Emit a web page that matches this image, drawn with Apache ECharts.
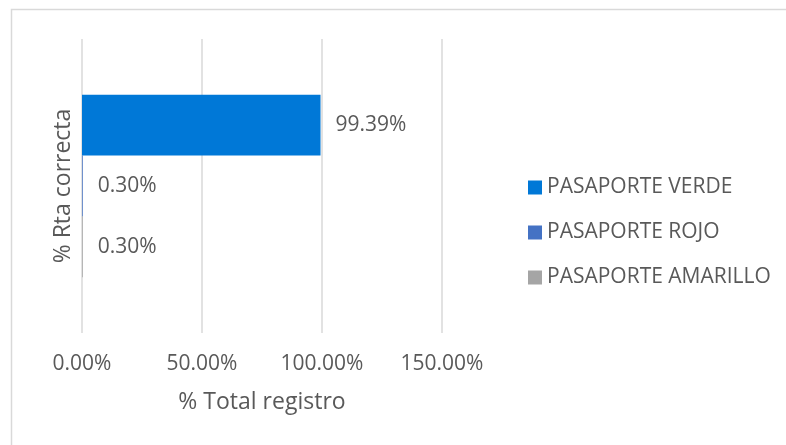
<!DOCTYPE html>
<html>
<head>
<meta charset="utf-8">
<script src="https://cdn.jsdelivr.net/npm/echarts@6/dist/echarts.min.js"></script>
<style>
  html, body { margin: 0; padding: 0; background: #fff; }
  #chart { width: 786px; height: 445px; }
</style>
</head>
<body>
<div id="chart"></div>
<script>
// datos
var categorias = ['% Rta correcta'];
var seriesNombres = ['PASAPORTE VERDE', 'PASAPORTE ROJO', 'PASAPORTE AMARILLO'];
var verde = [99.39];
var rojo = [0.30];
var amarillo = [0.30];
var colores = ['#0078D7', '#4472C4', '#A5A5A5'];

var fuente = '"Open Sans", sans-serif';
var gris = '#595959';

var chart = echarts.init(document.getElementById('chart'));

function serie(nombre, datos, color) {
	return {
		name: nombre,
		type: 'bar',
		data: datos,
		barGap: 0,
		barCategoryGap: '38%',
		itemStyle: { color: color },
		label: {
			show: true,
			position: 'right',
			distance: 15,
			color: gris,
			fontFamily: fuente,
			fontSize: 21,
			formatter: function(p) { return p.value.toFixed(2) + '%'; }
		}
	};
}

chart.setOption({
	backgroundColor: '#FFFFFF',
	animation: false,
	graphic: [{
		type: 'rect',
		shape: { x: 11.5, y: 9.5, width: 790, height: 450 },
		style: { fill: 'none', stroke: '#D9D9D9', lineWidth: 1.5 }
	}],
	grid: { left: 82, right: 344, top: 39, bottom: 112 },
	legend: {
		orient: 'vertical',
		left: 523,
		top: 172,
		data: seriesNombres,
		icon: 'rect',
		itemWidth: 14,
		itemHeight: 14,
		itemGap: 24,
		textStyle: { color: gris, fontFamily: fuente, fontSize: 21 }
	},
	xAxis: {
		type: 'value',
		min: 0,
		max: 150,
		interval: 50,
		name: '% Total registro',
		nameLocation: 'middle',
		nameGap: 58,
		nameTextStyle: { color: gris, fontFamily: fuente, fontSize: 23 },
		axisLine: { show: false },
		axisTick: { show: false },
		axisLabel: {
			color: gris, fontFamily: fuente, fontSize: 21, margin: 21,
			formatter: function(v) { return v.toFixed(2) + '%'; }
		},
		splitLine: { show: true, lineStyle: { color: '#D9D9D9', width: 1.5 } }
	},
	yAxis: {
		type: 'category',
		data: categorias,
		name: categorias[0],
		nameLocation: 'middle',
		nameGap: 7,
		nameTextStyle: { color: gris, fontFamily: fuente, fontSize: 23 },
		axisLine: { show: false },
		axisTick: { show: false },
		axisLabel: { show: false },
		splitLine: { show: false }
	},
	series: [
		serie(seriesNombres[0], verde, colores[0]),
		serie(seriesNombres[1], rojo, colores[1]),
		serie(seriesNombres[2], amarillo, colores[2])
	]
});
</script>
</body>
</html>
